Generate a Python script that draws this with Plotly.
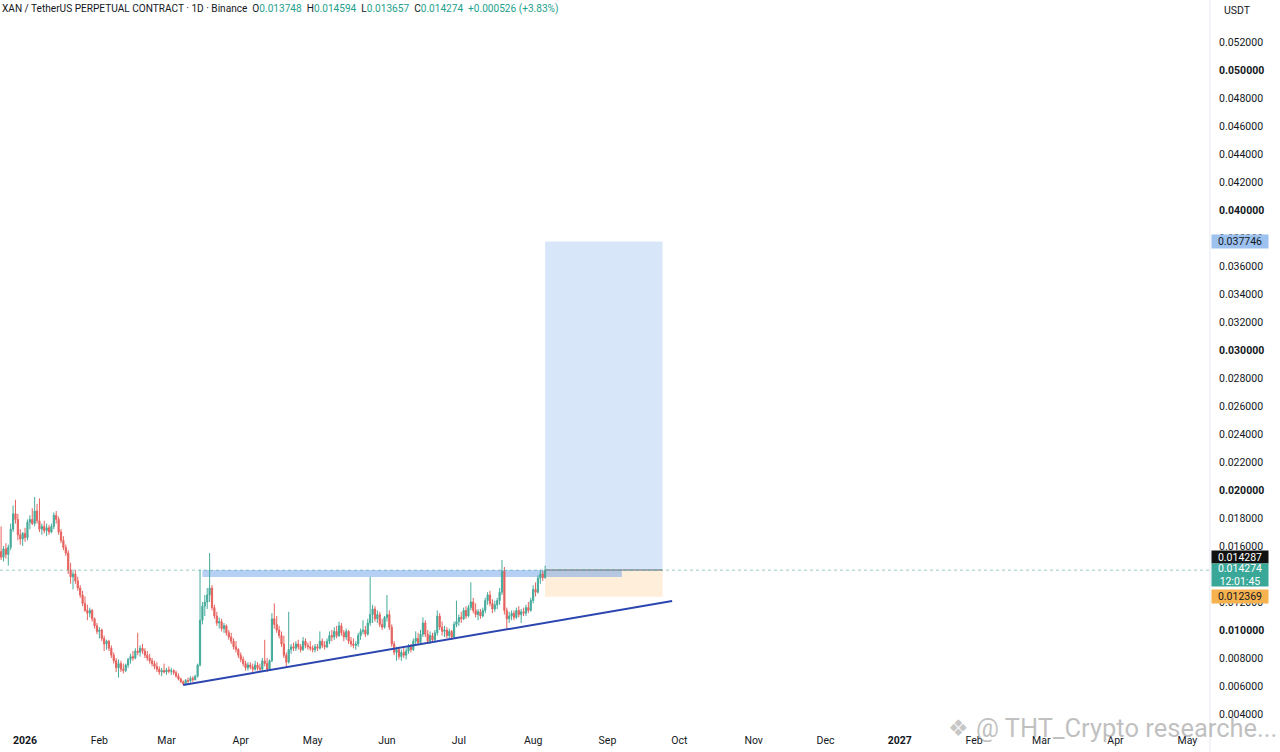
import pandas as pd
import plotly.graph_objects as go

# daily candles, XAN/USDT perp, 22 Dec 2025 -> 6 Aug 2026
start_date = "2025-12-22"

opens = [
    0.01560, 0.01520, 0.01580, 0.01540, 0.01590, 0.01720, 0.01830, 0.01790, 0.01680, 0.01650,
    0.01690, 0.01660, 0.01770, 0.01790, 0.01760, 0.01850, 0.01780, 0.01720, 0.01740, 0.01710,
    0.01730, 0.01700, 0.01740, 0.01820, 0.01790, 0.01700, 0.01640, 0.01590, 0.01550, 0.01430,
    0.01380, 0.01400, 0.01350, 0.01300, 0.01250, 0.01190, 0.01140, 0.01120, 0.01140, 0.01080,
    0.01030, 0.00990, 0.01000, 0.00940, 0.00900, 0.00920, 0.00870, 0.00820, 0.00780, 0.00730,
    0.00760, 0.00720, 0.00710, 0.00750, 0.00790, 0.00810, 0.00800, 0.00850, 0.00840, 0.00870,
    0.00850, 0.00820, 0.00800, 0.00780, 0.00760, 0.00740, 0.00720, 0.00700, 0.00710, 0.00700,
    0.00715, 0.00705, 0.00710, 0.00695, 0.00670, 0.00650, 0.00630, 0.00615, 0.00640, 0.00635,
    0.00655, 0.00645, 0.00670, 0.00750, 0.01070, 0.01170, 0.01200, 0.01250, 0.01300, 0.01160,
    0.01100, 0.01050, 0.01060, 0.01010, 0.01030, 0.00980, 0.00950, 0.00920, 0.00880, 0.00860,
    0.00820, 0.00790, 0.00760, 0.00730, 0.00750, 0.00735, 0.00720, 0.00750, 0.00730, 0.00720,
    0.00780, 0.00760, 0.00720, 0.00780, 0.01080, 0.01040, 0.01000, 0.00960, 0.00900, 0.00820,
    0.00770, 0.00860, 0.00880, 0.00870, 0.00900, 0.00880, 0.00860, 0.00920, 0.00890, 0.00880,
    0.00870, 0.00860, 0.00880, 0.00870, 0.00920, 0.00890, 0.00880, 0.00920, 0.00960, 0.00950,
    0.00990, 0.00960, 0.01030, 0.00980, 0.00950, 0.00990, 0.00920, 0.00900, 0.00890, 0.00900,
    0.00960, 0.00990, 0.01000, 0.00970, 0.01050, 0.01110, 0.01150, 0.01080, 0.01110, 0.01040,
    0.01020, 0.01090, 0.01110, 0.01020, 0.00900, 0.00840, 0.00860, 0.00810, 0.00840, 0.00820,
    0.00850, 0.00880, 0.00860, 0.00920, 0.00940, 0.00910, 0.00970, 0.01050, 0.00970, 0.00920,
    0.00960, 0.00930, 0.00980, 0.01100, 0.01020, 0.00990, 0.01000, 0.00960, 0.00990, 0.00950,
    0.01040, 0.01060, 0.01090, 0.01080, 0.01140, 0.01100, 0.01160, 0.01200, 0.01140, 0.01110,
    0.01130, 0.01100, 0.01140, 0.01210, 0.01250, 0.01190, 0.01150, 0.01180, 0.01210, 0.01270,
    0.01420, 0.01140, 0.01080, 0.01100, 0.01120, 0.01090, 0.01140, 0.01110, 0.01130, 0.01120,
    0.01160, 0.01140, 0.01210, 0.01290, 0.01270, 0.01370, 0.01400, 0.013748,
]
highs = [
    0.01740, 0.01600, 0.01620, 0.01610, 0.01760, 0.01890, 0.01930, 0.01830, 0.01720, 0.01700,
    0.01730, 0.01790, 0.01820, 0.01870, 0.01950, 0.01900, 0.01940, 0.01760, 0.01780, 0.01760,
    0.01750, 0.01760, 0.01840, 0.01850, 0.01810, 0.01720, 0.01670, 0.01610, 0.01570, 0.01480,
    0.01420, 0.01430, 0.01380, 0.01320, 0.01280, 0.01240, 0.01180, 0.01160, 0.01150, 0.01090,
    0.01050, 0.01020, 0.01010, 0.00960, 0.00930, 0.00930, 0.00890, 0.00840, 0.00800, 0.00790,
    0.00780, 0.00760, 0.00760, 0.00800, 0.00830, 0.00850, 0.00870, 0.00980, 0.00890, 0.00900,
    0.00870, 0.00850, 0.00830, 0.00800, 0.00780, 0.00770, 0.00740, 0.00730, 0.00760, 0.00730,
    0.00740, 0.00730, 0.00720, 0.00710, 0.00690, 0.00660, 0.00640, 0.00650, 0.00660, 0.00670,
    0.00670, 0.00680, 0.00760, 0.01430, 0.01200, 0.01250, 0.01300, 0.01550, 0.01320, 0.01180,
    0.01130, 0.01090, 0.01080, 0.01050, 0.01040, 0.01000, 0.00980, 0.00940, 0.00920, 0.00870,
    0.00840, 0.00810, 0.00780, 0.00770, 0.00770, 0.00760, 0.00780, 0.00770, 0.00760, 0.00800,
    0.00930, 0.00800, 0.00790, 0.01120, 0.01190, 0.01100, 0.01030, 0.00990, 0.00960, 0.00840,
    0.01130, 0.00900, 0.00910, 0.00920, 0.00930, 0.00900, 0.00950, 0.00940, 0.00910, 0.00920,
    0.00890, 0.00900, 0.00900, 0.00990, 0.00940, 0.00920, 0.00940, 0.00990, 0.01000, 0.01020,
    0.01030, 0.01060, 0.01050, 0.01000, 0.01010, 0.01000, 0.00950, 0.00940, 0.00920, 0.00980,
    0.01010, 0.01070, 0.01030, 0.01080, 0.01380, 0.01180, 0.01170, 0.01140, 0.01130, 0.01080,
    0.01100, 0.01250, 0.01140, 0.01040, 0.00920, 0.00880, 0.00880, 0.00860, 0.00870, 0.00870,
    0.00900, 0.00900, 0.00940, 0.00990, 0.00980, 0.01000, 0.01090, 0.01070, 0.01000, 0.00990,
    0.00980, 0.01000, 0.01140, 0.01120, 0.01060, 0.01030, 0.01020, 0.01010, 0.01000, 0.01060,
    0.01210, 0.01110, 0.01130, 0.01160, 0.01170, 0.01180, 0.01340, 0.01230, 0.01190, 0.01150,
    0.01150, 0.01160, 0.01230, 0.01270, 0.01280, 0.01220, 0.01210, 0.01230, 0.01300, 0.01500,
    0.01450, 0.01160, 0.01130, 0.01140, 0.01140, 0.01160, 0.01170, 0.01150, 0.01160, 0.01180,
    0.01200, 0.01230, 0.01320, 0.01340, 0.01390, 0.01430, 0.01420, 0.014594,
]
lows = [
    0.01500, 0.01490, 0.01510, 0.01460, 0.01570, 0.01700, 0.01760, 0.01640, 0.01610, 0.01600,
    0.01630, 0.01640, 0.01720, 0.01750, 0.01740, 0.01760, 0.01700, 0.01680, 0.01690, 0.01670,
    0.01680, 0.01690, 0.01720, 0.01760, 0.01680, 0.01620, 0.01570, 0.01530, 0.01400, 0.01330,
    0.01290, 0.01330, 0.01280, 0.01230, 0.01170, 0.01130, 0.01070, 0.01090, 0.01060, 0.01010,
    0.00970, 0.00940, 0.00920, 0.00850, 0.00860, 0.00850, 0.00800, 0.00760, 0.00700, 0.00660,
    0.00700, 0.00690, 0.00700, 0.00730, 0.00760, 0.00780, 0.00790, 0.00820, 0.00810, 0.00830,
    0.00800, 0.00780, 0.00760, 0.00740, 0.00720, 0.00700, 0.00680, 0.00670, 0.00690, 0.00680,
    0.00690, 0.00680, 0.00680, 0.00660, 0.00640, 0.00620, 0.00605, 0.00607, 0.00620, 0.00625,
    0.00630, 0.00640, 0.00660, 0.00740, 0.01040, 0.01100, 0.01150, 0.01200, 0.01140, 0.01080,
    0.01030, 0.01010, 0.00990, 0.00980, 0.00960, 0.00930, 0.00900, 0.00860, 0.00840, 0.00800,
    0.00770, 0.00740, 0.00710, 0.00710, 0.00720, 0.00700, 0.00710, 0.00710, 0.00700, 0.00700,
    0.00740, 0.00700, 0.00710, 0.00770, 0.01010, 0.00980, 0.00940, 0.00880, 0.00800, 0.00740,
    0.00760, 0.00830, 0.00850, 0.00850, 0.00860, 0.00840, 0.00850, 0.00870, 0.00860, 0.00850,
    0.00840, 0.00840, 0.00850, 0.00860, 0.00870, 0.00860, 0.00870, 0.00900, 0.00920, 0.00930,
    0.00940, 0.00950, 0.00960, 0.00920, 0.00930, 0.00900, 0.00880, 0.00870, 0.00860, 0.00880,
    0.00930, 0.00970, 0.00950, 0.00960, 0.01030, 0.01050, 0.01060, 0.01050, 0.01020, 0.01000,
    0.01010, 0.01060, 0.01000, 0.00880, 0.00820, 0.00780, 0.00790, 0.00780, 0.00800, 0.00790,
    0.00830, 0.00840, 0.00850, 0.00890, 0.00900, 0.00900, 0.00950, 0.00950, 0.00900, 0.00900,
    0.00910, 0.00920, 0.00960, 0.01000, 0.00960, 0.00950, 0.00940, 0.00940, 0.00930, 0.00940,
    0.01020, 0.01030, 0.01050, 0.01070, 0.01080, 0.01090, 0.01140, 0.01120, 0.01090, 0.01070,
    0.01080, 0.01090, 0.01120, 0.01180, 0.01170, 0.01120, 0.01130, 0.01150, 0.01180, 0.01250,
    0.01110, 0.01010, 0.01050, 0.01070, 0.01070, 0.01080, 0.01090, 0.01050, 0.01100, 0.01100,
    0.01120, 0.01130, 0.01190, 0.01240, 0.01260, 0.01330, 0.01350, 0.013657,
]
closes = [
    0.01520, 0.01580, 0.01540, 0.01590, 0.01720, 0.01830, 0.01790, 0.01680, 0.01650, 0.01690,
    0.01660, 0.01770, 0.01790, 0.01760, 0.01850, 0.01780, 0.01720, 0.01740, 0.01710, 0.01730,
    0.01700, 0.01740, 0.01820, 0.01790, 0.01700, 0.01640, 0.01590, 0.01550, 0.01430, 0.01380,
    0.01400, 0.01350, 0.01300, 0.01250, 0.01190, 0.01140, 0.01120, 0.01140, 0.01080, 0.01030,
    0.00990, 0.01000, 0.00940, 0.00900, 0.00920, 0.00870, 0.00820, 0.00780, 0.00730, 0.00760,
    0.00720, 0.00710, 0.00750, 0.00790, 0.00810, 0.00800, 0.00850, 0.00840, 0.00870, 0.00850,
    0.00820, 0.00800, 0.00780, 0.00760, 0.00740, 0.00720, 0.00700, 0.00710, 0.00700, 0.00715,
    0.00705, 0.00710, 0.00695, 0.00670, 0.00650, 0.00630, 0.00615, 0.00640, 0.00635, 0.00655,
    0.00645, 0.00670, 0.00750, 0.01070, 0.01170, 0.01200, 0.01250, 0.01300, 0.01160, 0.01100,
    0.01050, 0.01060, 0.01010, 0.01030, 0.00980, 0.00950, 0.00920, 0.00880, 0.00860, 0.00820,
    0.00790, 0.00760, 0.00730, 0.00750, 0.00735, 0.00720, 0.00750, 0.00730, 0.00720, 0.00780,
    0.00760, 0.00720, 0.00780, 0.01080, 0.01040, 0.01000, 0.00960, 0.00900, 0.00820, 0.00770,
    0.00860, 0.00880, 0.00870, 0.00900, 0.00880, 0.00860, 0.00920, 0.00890, 0.00880, 0.00870,
    0.00860, 0.00880, 0.00870, 0.00920, 0.00890, 0.00880, 0.00920, 0.00960, 0.00950, 0.00990,
    0.00960, 0.01030, 0.00980, 0.00950, 0.00990, 0.00920, 0.00900, 0.00890, 0.00900, 0.00960,
    0.00990, 0.01000, 0.00970, 0.01050, 0.01110, 0.01150, 0.01080, 0.01110, 0.01040, 0.01020,
    0.01090, 0.01110, 0.01020, 0.00900, 0.00840, 0.00860, 0.00810, 0.00840, 0.00820, 0.00850,
    0.00880, 0.00860, 0.00920, 0.00940, 0.00910, 0.00970, 0.01050, 0.00970, 0.00920, 0.00960,
    0.00930, 0.00980, 0.01100, 0.01020, 0.00990, 0.01000, 0.00960, 0.00990, 0.00950, 0.01040,
    0.01060, 0.01090, 0.01080, 0.01140, 0.01100, 0.01160, 0.01200, 0.01140, 0.01110, 0.01130,
    0.01100, 0.01140, 0.01210, 0.01250, 0.01190, 0.01150, 0.01180, 0.01210, 0.01270, 0.01420,
    0.01140, 0.01080, 0.01100, 0.01120, 0.01090, 0.01140, 0.01110, 0.01130, 0.01120, 0.01160,
    0.01140, 0.01210, 0.01290, 0.01270, 0.01370, 0.01400, 0.013748, 0.014274,
]

# long position tool + drawings
entry_price = 0.014287
target_price = 0.037746
stop_price = 0.012369
last_price = 0.014274
pos_start, pos_end = "2026-08-06", "2026-09-24"
zone_start, zone_end = "2026-03-16", "2026-09-07"
zone_low, zone_high = 0.013786, 0.014286
trend_dates = ["2026-03-08", "2026-09-28"]
trend_prices = [0.006071, 0.012071]

price_ticks = [round(0.004 + 0.002 * k, 3) for k in range(25)]
month_ticks = ["2026-01-01", "2026-02-01", "2026-03-01", "2026-04-01", "2026-05-01", "2026-06-01",
               "2026-07-01", "2026-08-01", "2026-09-01", "2026-10-01", "2026-11-01", "2026-12-01",
               "2027-01-01", "2027-02-01", "2027-03-01", "2027-04-01", "2027-05-01"]
month_labels = ["<b>2026</b>", "Feb", "Mar", "Apr", "May", "Jun", "Jul", "Aug", "Sep", "Oct", "Nov",
                "Dec", "<b>2027</b>", "Feb", "Mar", "Apr", "May"]

dates = pd.date_range(start_date, periods=len(closes), freq="D")

UP = "#45ab9b"
DOWN = "#e6625e"
TEXT = "#131722"

fig = go.Figure()
fig.add_trace(go.Candlestick(
    x=dates, open=opens, high=highs, low=lows, close=closes,
    increasing=dict(line=dict(color=UP, width=1), fillcolor=UP),
    decreasing=dict(line=dict(color=DOWN, width=1), fillcolor=DOWN),
    showlegend=False, hoverinfo="skip",
))
fig.add_trace(go.Scatter(
    x=trend_dates, y=trend_prices, mode="lines",
    line=dict(color="#2c46b0", width=2), showlegend=False, hoverinfo="skip",
))

shapes = [
    # target (blue) and stop (orange) of the long position
    dict(type="rect", xref="x", yref="y", x0=pos_start, x1=pos_end, y0=entry_price, y1=target_price,
         fillcolor="rgba(130,180,235,0.32)", line=dict(width=0), layer="below"),
    dict(type="rect", xref="x", yref="y", x0=pos_start, x1=pos_end, y0=stop_price, y1=entry_price,
         fillcolor="rgba(255,200,130,0.3)", line=dict(width=0), layer="below"),
    # resistance zone
    dict(type="rect", xref="x", yref="y", x0=zone_start, x1=zone_end, y0=zone_low, y1=zone_high,
         fillcolor="rgba(110,160,235,0.5)", line=dict(width=0), layer="below"),
    dict(type="line", xref="x", yref="y", x0=pos_start, x1=pos_end, y0=entry_price, y1=entry_price,
         line=dict(color="#8a8f98", width=1.5)),
    # last price line
    dict(type="line", xref="paper", yref="y", x0=0, x1=1, y0=last_price, y1=last_price,
         line=dict(color="rgba(80,170,160,0.6)", width=1, dash="dot")),
    # price scale separator
    dict(type="line", xref="paper", yref="paper", x0=1, x1=1, y0=-0.03, y1=1,
         line=dict(color="#e6e8ee", width=1)),
]

header = (
    "XAN / TetherUS PERPETUAL CONTRACT · 1D · Binance  "
    "O<span style='color:#22a08c'>0.013748</span>  "
    "H<span style='color:#22a08c'>0.014594</span>  "
    "L<span style='color:#22a08c'>0.013657</span>  "
    "C<span style='color:#22a08c'>0.014274</span>  "
    "<span style='color:#22a08c'>+0.000526 (+3.83%)</span>"
)

label_font = dict(family="Roboto", size=10.5)
annotations = [
    dict(text=header, xref="paper", yref="paper", x=0, y=1, xanchor="left", yanchor="top",
         yshift=-1, showarrow=False, font=dict(family="Roboto", size=10.1, color=TEXT)),
    dict(text="USDT", xref="paper", yref="paper", x=1, y=1, xanchor="left", yanchor="top",
         xshift=12, yshift=-2, showarrow=False, font=dict(family="Roboto", size=10.5, color=TEXT)),
    dict(text="0.037746", xref="paper", yref="y", x=1, y=target_price, xanchor="left", yanchor="middle",
         xshift=1, width=56, height=13, showarrow=False, bgcolor="#9dc2f0", borderpad=0,
         font=dict(label_font, color=TEXT)),
    dict(text="0.014287", xref="paper", yref="y", x=1, y=entry_price, xanchor="left", yanchor="middle",
         xshift=1, yshift=13, width=56, height=12, showarrow=False, bgcolor="#111111", borderpad=0,
         font=dict(label_font, color="white")),
    dict(text="0.014274<br>12:01:45", xref="paper", yref="y", x=1, y=last_price, xanchor="left",
         yanchor="middle", xshift=1, yshift=-5, width=56, height=22, showarrow=False,
         bgcolor="#3aa898", borderpad=0, font=dict(label_font, color="white")),
    dict(text="0.012369", xref="paper", yref="y", x=1, y=stop_price, xanchor="left", yanchor="middle",
         xshift=1, width=56, height=13, showarrow=False, bgcolor="#f5b24e", borderpad=0,
         font=dict(label_font, color=TEXT)),
    dict(text="❖", xref="paper", yref="paper", x=958 / 1210, y=0.006, xanchor="center", yanchor="middle",
         showarrow=False, font=dict(family="DejaVu Sans", size=23, color="rgba(150,150,150,0.55)")),
    dict(text="@ THT_Crypto researche...", xref="paper", yref="paper", x=974 / 1210, y=0.006,
         xanchor="left", yanchor="middle", showarrow=False,
         font=dict(family="Roboto", size=25.5, color="rgba(150,150,150,0.6)")),
]

fig.update_layout(
    width=1280, height=752,
    margin=dict(l=0, r=70, t=0, b=20, pad=0),
    paper_bgcolor="white", plot_bgcolor="white",
    shapes=shapes, annotations=annotations,
    showlegend=False,
    font=dict(family="Roboto", size=10, color=TEXT),
    xaxis=dict(
        type="date", range=["2025-12-21 13:00", "2027-05-10 10:00"], automargin=False,
        rangeslider=dict(visible=False), showgrid=False, zeroline=False,
        tickvals=month_ticks, ticktext=month_labels, ticks="",
        tickfont=dict(family="Roboto", size=10.5, color=TEXT),
    ),
    yaxis=dict(
        side="right", range=[0.002714, 0.055], showgrid=False, zeroline=False, automargin=False,
        tickvals=price_ticks,
        ticktext=[("<b>%.6f</b>" if round(v * 1000) % 10 == 0 else "%.6f") % v for v in price_ticks],
        ticks="", ticklabelstandoff=8,
        tickfont=dict(family="Roboto", size=10.5, color=TEXT),
    ),
)

# the page body has a default 8px margin; drop it so the chart sits at the window corner
fig.write_html("out.html", config={"displayModeBar": False},
               post_script="document.body.style.margin='0';")
